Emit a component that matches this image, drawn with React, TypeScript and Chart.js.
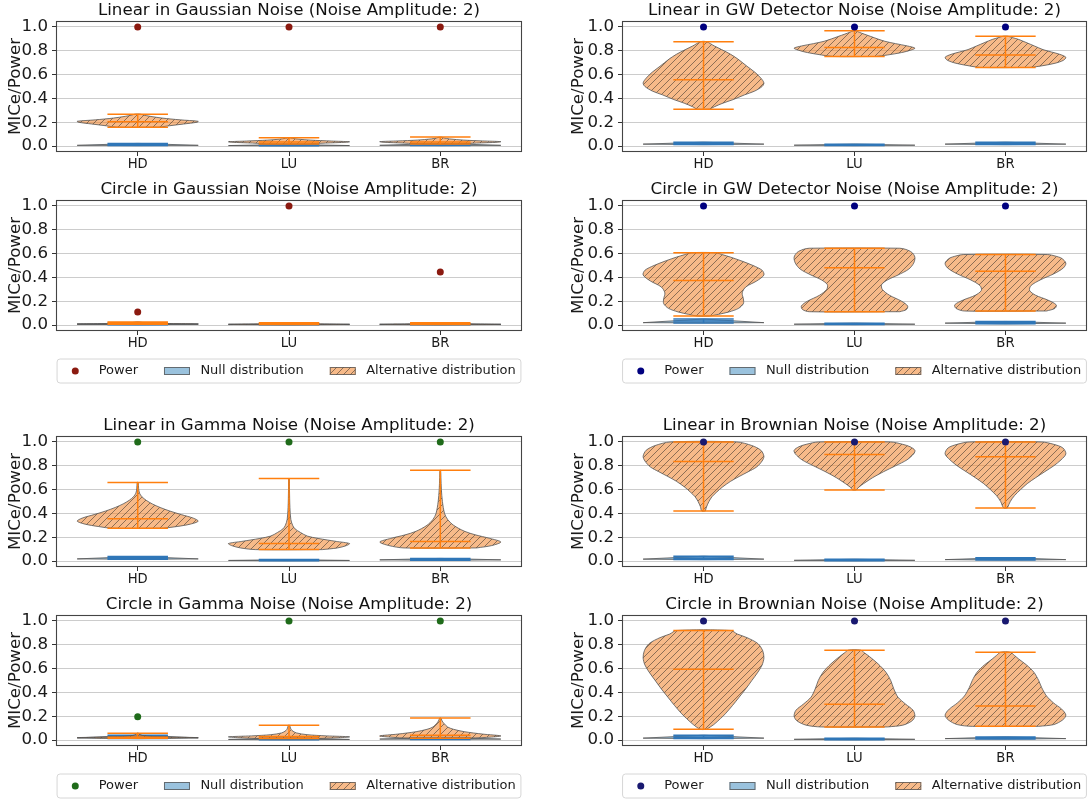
import React, { useEffect, useRef } from 'react';
import { Chart, registerables } from 'chart.js';

Chart.register(...registerables);

type Prof = [number, number][];

// ---------------- data ----------------
const METHODS = ['HD', 'LU', 'BR'];
const Y_TICKS = [0, 0.2, 0.4, 0.6, 0.8, 1.0];
const LEGEND_LABELS = ['Power', 'Null distribution', 'Alternative distribution'];

// Linear in Gaussian Noise
const linGaussPower = [1.0, 1.0, 1.0];
const linGaussNull = [[0.004, 0.012, 0.022], [0.002, 0.006, 0.014], [0.004, 0.012, 0.022]]; // min, mean, max
const linGaussNullMode = [0.006, 0.004, 0.006];
const linGaussAlt = [[0.158, 0.205, 0.268], [0.018, 0.034, 0.07], [0.018, 0.035, 0.075]];
const linGaussAltHD: Prof = [[0.158, 0.35], [0.17, 0.52], [0.185, 0.76], [0.2, 0.98], [0.208, 1.0], [0.22, 0.7], [0.235, 0.4], [0.25, 0.2], [0.26, 0.1], [0.268, 0.04]];
const linGaussAltLU: Prof = [[0.018, 0.3], [0.025, 0.6], [0.032, 0.95], [0.036, 1.0], [0.042, 0.7], [0.05, 0.35], [0.058, 0.15], [0.065, 0.06], [0.07, 0.02]];
const linGaussAltBR: Prof = [[0.018, 0.3], [0.025, 0.6], [0.032, 0.95], [0.037, 1.0], [0.043, 0.7], [0.05, 0.38], [0.06, 0.15], [0.068, 0.06], [0.075, 0.02]];

// Circle in Gaussian Noise
const cirGaussPower = [0.11, 1.0, 0.445];
const cirGaussNull = [[0.003, 0.008, 0.015], [0.002, 0.005, 0.01], [0.002, 0.005, 0.01]];
const cirGaussNullMode = [0.006, 0.004, 0.004];
const cirGaussAlt = [[0.006, 0.016, 0.026], [0.004, 0.011, 0.02], [0.004, 0.011, 0.02]];
const cirGaussAltHD: Prof = [[0.006, 0.1], [0.01, 1.0], [0.014, 0.4], [0.02, 0.1], [0.026, 0.02]];
const cirGaussAltLU: Prof = [[0.004, 0.1], [0.007, 1.0], [0.011, 0.4], [0.016, 0.08], [0.02, 0.02]];
const cirGaussAltBR: Prof = [[0.004, 0.1], [0.007, 1.0], [0.011, 0.4], [0.016, 0.08], [0.02, 0.02]];

// Linear in GW Detector Noise
const linGWPower = [1.0, 1.0, 1.0];
const linGWNull = [[0.012, 0.02, 0.032], [0.004, 0.009, 0.016], [0.012, 0.02, 0.032]];
const linGWNullMode = [0.016, 0.007, 0.016];
const linGWAlt = [[0.309, 0.556, 0.876], [0.752, 0.828, 0.968], [0.66, 0.765, 0.922]];
const linGWAltHD: Prof = [[0.309, 0.1], [0.33, 0.18], [0.36, 0.32], [0.39, 0.49], [0.43, 0.68], [0.46, 0.84], [0.5, 0.97], [0.53, 1.0], [0.57, 0.95], [0.62, 0.85], [0.67, 0.72], [0.73, 0.57], [0.77, 0.45], [0.81, 0.3], [0.84, 0.18], [0.876, 0.05]];
const linGWAltLU: Prof = [[0.752, 0.35], [0.765, 0.55], [0.785, 0.78], [0.805, 0.93], [0.822, 1.0], [0.84, 0.88], [0.86, 0.68], [0.88, 0.5], [0.9, 0.38], [0.92, 0.27], [0.94, 0.16], [0.955, 0.08], [0.968, 0.02]];
const linGWAltBR: Prof = [[0.66, 0.42], [0.675, 0.62], [0.695, 0.82], [0.72, 0.96], [0.745, 1.0], [0.77, 0.9], [0.79, 0.76], [0.81, 0.62], [0.84, 0.48], [0.87, 0.34], [0.895, 0.22], [0.91, 0.12], [0.922, 0.04]];

// Circle in GW Detector Noise
const cirGWPower = [1.0, 1.0, 1.0];
const cirGWNull = [[0.018, 0.033, 0.05], [0.004, 0.009, 0.016], [0.01, 0.02, 0.03]];
const cirGWNullMode = [0.02, 0.007, 0.016];
const cirGWAlt = [[0.075, 0.375, 0.607], [0.112, 0.482, 0.645], [0.118, 0.452, 0.592]];
const cirGWAltHD: Prof = [[0.075, 0.1], [0.09, 0.25], [0.11, 0.42], [0.14, 0.58], [0.18, 0.66], [0.22, 0.66], [0.27, 0.64], [0.32, 0.7], [0.37, 0.88], [0.42, 1.0], [0.46, 0.97], [0.5, 0.82], [0.54, 0.62], [0.57, 0.45], [0.59, 0.32], [0.607, 0.2]];
const cirGWAltLU: Prof = [[0.112, 0.75], [0.13, 0.86], [0.16, 0.88], [0.2, 0.78], [0.25, 0.58], [0.3, 0.46], [0.34, 0.45], [0.38, 0.55], [0.42, 0.72], [0.47, 0.9], [0.52, 0.98], [0.57, 1.0], [0.61, 0.95], [0.635, 0.85], [0.645, 0.75]];
const cirGWAltBR: Prof = [[0.118, 0.68], [0.14, 0.82], [0.17, 0.84], [0.21, 0.7], [0.25, 0.5], [0.29, 0.4], [0.33, 0.42], [0.38, 0.58], [0.43, 0.8], [0.48, 0.96], [0.52, 1.0], [0.56, 0.93], [0.58, 0.82], [0.592, 0.7]];

// Linear in Gamma Noise
const linGamPower = [1.0, 1.0, 1.0];
const linGamNull = [[0.015, 0.025, 0.038], [0.003, 0.007, 0.012], [0.006, 0.013, 0.022]];
const linGamNullMode = [0.018, 0.005, 0.01];
const linGamAlt = [[0.275, 0.355, 0.66], [0.096, 0.147, 0.694], [0.11, 0.165, 0.762]];
const linGamAltHD: Prof = [[0.275, 0.42], [0.29, 0.65], [0.31, 0.87], [0.335, 1.0], [0.36, 0.92], [0.39, 0.72], [0.42, 0.53], [0.45, 0.37], [0.48, 0.24], [0.51, 0.14], [0.54, 0.07], [0.57, 0.03], [0.61, 0.015], [0.66, 0.008]];
const linGamAltLU: Prof = [[0.096, 0.55], [0.11, 0.8], [0.13, 0.95], [0.147, 1.0], [0.165, 0.78], [0.19, 0.48], [0.21, 0.3], [0.24, 0.19], [0.27, 0.1], [0.3, 0.06], [0.35, 0.03], [0.45, 0.015], [0.6, 0.008], [0.694, 0.005]];
const linGamAltBR: Prof = [[0.11, 0.6], [0.13, 0.85], [0.16, 1.0], [0.19, 0.82], [0.22, 0.58], [0.25, 0.4], [0.3, 0.22], [0.35, 0.12], [0.4, 0.07], [0.5, 0.035], [0.6, 0.018], [0.7, 0.01], [0.762, 0.005]];

// Circle in Gamma Noise
const cirGamPower = [0.195, 1.0, 1.0];
const cirGamNull = [[0.012, 0.025, 0.04], [0.003, 0.008, 0.018], [0.005, 0.012, 0.022]];
const cirGamNullMode = [0.018, 0.005, 0.008];
const cirGamAlt = [[0.016, 0.024, 0.058], [0.012, 0.03, 0.125], [0.016, 0.04, 0.185]];
const cirGamAltHD: Prof = [[0.016, 0.5], [0.02, 1.0], [0.025, 0.6], [0.03, 0.25], [0.038, 0.08], [0.048, 0.03], [0.058, 0.01]];
const cirGamAltLU: Prof = [[0.012, 0.4], [0.02, 0.85], [0.027, 1.0], [0.035, 0.62], [0.045, 0.3], [0.06, 0.12], [0.08, 0.05], [0.1, 0.025], [0.125, 0.01]];
const cirGamAltBR: Prof = [[0.016, 0.5], [0.025, 0.85], [0.035, 1.0], [0.05, 0.7], [0.07, 0.4], [0.09, 0.22], [0.11, 0.12], [0.14, 0.06], [0.16, 0.03], [0.185, 0.01]];

// Linear in Brownian Noise
const linBrPower = [1.0, 1.0, 1.0];
const linBrNull = [[0.012, 0.025, 0.04], [0.003, 0.008, 0.015], [0.008, 0.018, 0.028]];
const linBrNullMode = [0.016, 0.006, 0.012];
const linBrAlt = [[0.42, 0.835, 1.0], [0.597, 0.895, 1.0], [0.445, 0.875, 1.0]];
const linBrAltHD: Prof = [[0.42, 0.03], [0.455, 0.05], [0.5, 0.09], [0.54, 0.14], [0.58, 0.22], [0.62, 0.31], [0.67, 0.45], [0.71, 0.59], [0.75, 0.74], [0.79, 0.88], [0.84, 0.97], [0.88, 1.0], [0.93, 0.95], [0.97, 0.8], [1.0, 0.55]];
const linBrAltLU: Prof = [[0.597, 0.03], [0.62, 0.07], [0.65, 0.15], [0.7, 0.3], [0.75, 0.48], [0.8, 0.68], [0.85, 0.87], [0.9, 0.98], [0.93, 1.0], [0.96, 0.92], [0.98, 0.8], [1.0, 0.6]];
const linBrAltBR: Prof = [[0.445, 0.03], [0.5, 0.08], [0.55, 0.15], [0.6, 0.25], [0.65, 0.36], [0.7, 0.5], [0.75, 0.65], [0.8, 0.8], [0.85, 0.92], [0.9, 1.0], [0.95, 0.95], [0.98, 0.8], [1.0, 0.6]];

// Circle in Brownian Noise
const cirBrPower = [1.0, 1.0, 1.0];
const cirBrNull = [[0.012, 0.025, 0.04], [0.003, 0.008, 0.015], [0.008, 0.016, 0.026]];
const cirBrNullMode = [0.016, 0.006, 0.012];
const cirBrAlt = [[0.09, 0.595, 0.92], [0.11, 0.3, 0.755], [0.115, 0.285, 0.737]];
const cirBrAltHD: Prof = [[0.09, 0.05], [0.13, 0.17], [0.18, 0.28], [0.22, 0.36], [0.29, 0.48], [0.36, 0.59], [0.43, 0.7], [0.5, 0.8], [0.57, 0.9], [0.63, 0.97], [0.69, 1.0], [0.75, 0.98], [0.81, 0.9], [0.86, 0.72], [0.89, 0.56], [0.92, 0.45]];
const cirBrAltLU: Prof = [[0.11, 0.55], [0.125, 0.8], [0.16, 0.95], [0.2, 1.0], [0.25, 0.97], [0.3, 0.85], [0.36, 0.72], [0.43, 0.65], [0.5, 0.6], [0.57, 0.52], [0.64, 0.39], [0.7, 0.25], [0.73, 0.17], [0.755, 0.1]];
const cirBrAltBR: Prof = [[0.115, 0.55], [0.13, 0.8], [0.17, 0.95], [0.21, 1.0], [0.26, 0.93], [0.31, 0.8], [0.37, 0.68], [0.44, 0.6], [0.5, 0.55], [0.57, 0.47], [0.63, 0.35], [0.68, 0.22], [0.71, 0.15], [0.737, 0.08]];

// ---------------- style / layout ----------------
const FONT = '"DejaVu Sans", "Liberation Sans", sans-serif';
const BIG = 16.67;
const SMALL = 13.2;
const GAUSS_COLOR = '#8b1a10';
const GW_COLOR = '#00007f';
const GAMMA_COLOR = '#1f6b1a';
const BROWN_COLOR = '#191970';
const ALT_LINE = '#ff7f0e';
const NULL_LINE = '#2f76b7';
const NULL_FILL = 'rgba(31,119,180,0.45)';
const EDGE = 'rgba(85,85,85,0.8)';
const ALT_FILL = 'rgba(240,130,40,0.55)';
const HATCH_LINE = 'rgba(70,60,50,0.6)';

const COL_X = [0, 546];
const PLOT_LEFT = [56, 622];
const PLOT_RIGHT = [522, 1087];
const YTITLE_PAD = [0, 17];
const ROW_TOP = [21, 200, 436, 615];
const PLOT_H = 131;
const TITLE_H = 21;
const XAXIS_H = 28;
const LEGEND_H = 62;
const CANVAS_W = 546;
const VIOLIN_HALF = 0.4;
const LINE_HALF = 0.2;

type Panel = {
  title: string;
  col: number;
  row: number;
  legend: boolean;
  power: number[];
  powerColor: string;
  nul: number[][];
  nulMode: number[];
  alt: number[][];
  prof: Prof[];
};

const PANELS: Panel[] = [
  { title: 'Linear in Gaussian Noise (Noise Amplitude: 2)', col: 0, row: 0, legend: false, power: linGaussPower, powerColor: GAUSS_COLOR, nul: linGaussNull, nulMode: linGaussNullMode, alt: linGaussAlt, prof: [linGaussAltHD, linGaussAltLU, linGaussAltBR] },
  { title: 'Circle in Gaussian Noise (Noise Amplitude: 2)', col: 0, row: 1, legend: true, power: cirGaussPower, powerColor: GAUSS_COLOR, nul: cirGaussNull, nulMode: cirGaussNullMode, alt: cirGaussAlt, prof: [cirGaussAltHD, cirGaussAltLU, cirGaussAltBR] },
  { title: 'Linear in GW Detector Noise (Noise Amplitude: 2)', col: 1, row: 0, legend: false, power: linGWPower, powerColor: GW_COLOR, nul: linGWNull, nulMode: linGWNullMode, alt: linGWAlt, prof: [linGWAltHD, linGWAltLU, linGWAltBR] },
  { title: 'Circle in GW Detector Noise (Noise Amplitude: 2)', col: 1, row: 1, legend: true, power: cirGWPower, powerColor: GW_COLOR, nul: cirGWNull, nulMode: cirGWNullMode, alt: cirGWAlt, prof: [cirGWAltHD, cirGWAltLU, cirGWAltBR] },
  { title: 'Linear in Gamma Noise (Noise Amplitude: 2)', col: 0, row: 2, legend: false, power: linGamPower, powerColor: GAMMA_COLOR, nul: linGamNull, nulMode: linGamNullMode, alt: linGamAlt, prof: [linGamAltHD, linGamAltLU, linGamAltBR] },
  { title: 'Circle in Gamma Noise (Noise Amplitude: 2)', col: 0, row: 3, legend: true, power: cirGamPower, powerColor: GAMMA_COLOR, nul: cirGamNull, nulMode: cirGamNullMode, alt: cirGamAlt, prof: [cirGamAltHD, cirGamAltLU, cirGamAltBR] },
  { title: 'Linear in Brownian Noise (Noise Amplitude: 2)', col: 1, row: 2, legend: false, power: linBrPower, powerColor: BROWN_COLOR, nul: linBrNull, nulMode: linBrNullMode, alt: linBrAlt, prof: [linBrAltHD, linBrAltLU, linBrAltBR] },
  { title: 'Circle in Brownian Noise (Noise Amplitude: 2)', col: 1, row: 3, legend: true, power: cirBrPower, powerColor: BROWN_COLOR, nul: cirBrNull, nulMode: cirBrNullMode, alt: cirBrAlt, prof: [cirBrAltHD, cirBrAltLU, cirBrAltBR] },
];

// ---------------- helpers ----------------
function makeHatch(): CanvasPattern | string {
  const s = 7;
  const c = document.createElement('canvas');
  c.width = s;
  c.height = s;
  const g = c.getContext('2d');
  if (!g) return ALT_FILL;
  g.fillStyle = ALT_FILL;
  g.fillRect(0, 0, s, s);
  g.strokeStyle = HATCH_LINE;
  g.lineWidth = 1;
  g.beginPath();
  g.moveTo(0, s);
  g.lineTo(s, 0);
  g.moveTo(-1, 1);
  g.lineTo(1, -1);
  g.moveTo(s - 1, s + 1);
  g.lineTo(s + 1, s - 1);
  g.stroke();
  return g.createPattern(c, 'repeat') || ALT_FILL;
}

function bodyPoints(pos: number, prof: Prof) {
  const right = prof.map(([y, w]) => ({ x: pos + w * VIOLIN_HALF, y }));
  const left = prof.slice().reverse().map(([y, w]) => ({ x: pos - w * VIOLIN_HALF, y }));
  return [...right, ...left, right[0]];
}

function statLines(pos: number, s: number[]) {
  const [mn, mean, mx] = s;
  const gap = { x: pos, y: null as any };
  return [
    { x: pos - LINE_HALF, y: mn }, { x: pos + LINE_HALF, y: mn }, gap,
    { x: pos - LINE_HALF, y: mx }, { x: pos + LINE_HALF, y: mx }, gap,
    { x: pos - LINE_HALF, y: mean }, { x: pos + LINE_HALF, y: mean }, gap,
    { x: pos, y: mn }, { x: pos, y: mx }, gap,
  ];
}

const framePlugin = {
  id: 'frame',
  afterDraw(chart: any) {
    const { ctx, chartArea: a } = chart;
    ctx.save();
    ctx.strokeStyle = '#444444';
    ctx.lineWidth = 1.1;
    ctx.strokeRect(Math.round(a.left) + 0.5, Math.round(a.top) + 0.5, Math.round(a.right - a.left) - 1, Math.round(a.bottom - a.top) - 1);
    ctx.restore();
  },
};

function makeLegendPlugin(show: boolean, powerColor: string, hatch: CanvasPattern | string) {
  return {
    id: 'mplLegend',
    afterDraw(chart: any) {
      if (!show) return;
      const { ctx, chartArea: a } = chart;
      const fs = 13;
      const pad = 0.4 * fs;
      const hl = 2 * fs;
      const htp = 0.8 * fs;
      const cs = 2 * fs;
      ctx.save();
      ctx.font = `${fs}px ${FONT}`;
      const widths = LEGEND_LABELS.map((t) => ctx.measureText(t).width);
      const total = 2 * pad + widths.reduce((s, w) => s + hl + htp + w, 0) + cs * (widths.length - 1);
      const cx = (a.left + a.right) / 2;
      const x0 = cx - total / 2;
      const top = a.bottom + 28;
      const h = 24;
      const r = 3;
      ctx.beginPath();
      ctx.moveTo(x0 + r, top);
      ctx.lineTo(x0 + total - r, top);
      ctx.quadraticCurveTo(x0 + total, top, x0 + total, top + r);
      ctx.lineTo(x0 + total, top + h - r);
      ctx.quadraticCurveTo(x0 + total, top + h, x0 + total - r, top + h);
      ctx.lineTo(x0 + r, top + h);
      ctx.quadraticCurveTo(x0, top + h, x0, top + h - r);
      ctx.lineTo(x0, top + r);
      ctx.quadraticCurveTo(x0, top, x0 + r, top);
      ctx.closePath();
      ctx.fillStyle = 'rgba(255,255,255,0.8)';
      ctx.fill();
      ctx.strokeStyle = '#d6d6d6';
      ctx.lineWidth = 1;
      ctx.stroke();
      const cy = top + h / 2;
      let ix = x0 + pad;
      LEGEND_LABELS.forEach((label, i) => {
        if (i === 0) {
          ctx.beginPath();
          ctx.arc(ix + hl / 2, cy, 3.5, 0, Math.PI * 2);
          ctx.fillStyle = powerColor;
          ctx.fill();
        } else {
          const sh = 8;
          ctx.fillStyle = '#ffffff';
          ctx.fillRect(ix, cy - sh / 2, hl, sh);
          ctx.fillStyle = i === 1 ? NULL_FILL : (hatch as any);
          ctx.fillRect(ix, cy - sh / 2, hl, sh);
          ctx.strokeStyle = EDGE;
          ctx.lineWidth = 1;
          ctx.strokeRect(ix + 0.5, cy - sh / 2 + 0.5, hl - 1, sh - 1);
        }
        ctx.fillStyle = '#1a1a1a';
        ctx.textBaseline = 'middle';
        ctx.textAlign = 'left';
        ctx.fillText(label, ix + hl + htp, cy);
        ix += hl + htp + widths[i] + cs;
      });
      ctx.restore();
    },
  };
}

function PanelChart({ p }: { p: Panel }) {
  const ref = useRef<HTMLCanvasElement>(null);
  const left = COL_X[p.col];
  const top = ROW_TOP[p.row] - TITLE_H;
  const height = TITLE_H + PLOT_H + XAXIS_H + (p.legend ? LEGEND_H : 0);

  useEffect(() => {
    const canvas = ref.current;
    if (!canvas) return;
    const hatch = makeHatch();
    const datasets: any[] = [];
    p.nul.forEach((s, i) => {
      const shape: Prof = [[s[0], 0.03], [p.nulMode[i], 1], [s[2], 0.02]];
      datasets.push({
        data: bodyPoints(i + 1, shape), fill: 'shape', backgroundColor: NULL_FILL, borderColor: EDGE,
        borderWidth: 1, pointRadius: 0, tension: 0, order: 4,
      });
    });
    datasets.push({
      data: p.nul.flatMap((s, i) => statLines(i + 1, s)), borderColor: NULL_LINE, borderWidth: 1.5,
      pointRadius: 0, fill: false, spanGaps: false, tension: 0, order: 3,
    });
    p.prof.forEach((pr, i) => {
      datasets.push({
        data: bodyPoints(i + 1, pr), fill: 'shape', backgroundColor: hatch, borderColor: EDGE,
        borderWidth: 1, pointRadius: 0, tension: 0.3, order: 2,
      });
    });
    datasets.push({
      data: p.alt.flatMap((s, i) => statLines(i + 1, s)), borderColor: ALT_LINE, borderWidth: 1.5,
      pointRadius: 0, fill: false, spanGaps: false, tension: 0, order: 1,
    });
    datasets.push({
      data: p.power.map((v, i) => ({ x: i + 1, y: v })), showLine: false, pointRadius: 3.5,
      pointBackgroundColor: p.powerColor, pointBorderColor: p.powerColor, pointBorderWidth: 0, order: 0,
    });

    const yWidth = PLOT_LEFT[p.col] - COL_X[p.col] - YTITLE_PAD[p.col];
    const padRight = CANVAS_W - (PLOT_RIGHT[p.col] - COL_X[p.col]);

    const chart = new Chart(canvas, {
      type: 'line',
      data: { datasets },
      options: {
        animation: false,
        responsive: false,
        events: [],
        layout: {
          autoPadding: false,
          padding: { left: YTITLE_PAD[p.col], right: padRight, top: 0, bottom: p.legend ? LEGEND_H : 0 },
        },
        plugins: {
          legend: { display: false },
          tooltip: { enabled: false },
          title: {
            display: true,
            text: p.title,
            fullSize: false,
            color: '#111111',
            font: { family: FONT, size: BIG, weight: 'normal', lineHeight: 1.2 },
            padding: { top: 0.5, bottom: 0.5 },
          },
        },
        scales: {
          x: {
            type: 'linear',
            min: 0.46,
            max: 3.54,
            afterBuildTicks: (axis: any) => {
              axis.ticks = [1, 2, 3].map((v) => ({ value: v }));
            },
            afterFit: (axis: any) => {
              axis.height = XAXIS_H;
            },
            ticks: {
              autoSkip: false,
              maxRotation: 0,
              padding: 1,
              color: '#1a1a1a',
              font: { family: FONT, size: SMALL },
              callback: (v: any) => METHODS[Math.round(Number(v)) - 1] ?? '',
            },
            grid: { drawOnChartArea: false, drawTicks: true, tickLength: 4, tickColor: '#333333' },
            border: { display: false },
          },
          y: {
            type: 'linear',
            min: -0.05,
            max: 1.05,
            afterBuildTicks: (axis: any) => {
              axis.ticks = Y_TICKS.map((v) => ({ value: v }));
            },
            afterFit: (axis: any) => {
              axis.width = yWidth;
            },
            ticks: {
              padding: 4,
              color: '#1a1a1a',
              font: { family: FONT, size: BIG },
              callback: (v: any) => Number(v).toFixed(1),
            },
            grid: { color: '#cccccc', lineWidth: 1, drawTicks: true, tickLength: 4, tickColor: '#333333' },
            border: { display: false },
            title: {
              display: true,
              text: 'MICe/Power',
              color: '#1a1a1a',
              font: { family: FONT, size: BIG, lineHeight: 1.2 },
              padding: { top: 6, bottom: 0 },
            },
          },
        },
      } as any,
      plugins: [framePlugin, makeLegendPlugin(p.legend, p.powerColor, hatch)],
    });
    return () => chart.destroy();
  }, []);

  return (
    <canvas
      ref={ref}
      width={CANVAS_W}
      height={height}
      style={{ position: 'absolute', left, top, width: CANVAS_W, height }}
    />
  );
}

export default function App() {
  return (
    <div style={{ position: 'absolute', left: 0, top: 0, width: 1092, height: 803, background: '#ffffff', overflow: 'hidden' }}>
      {PANELS.map((p, i) => (
        <PanelChart key={i} p={p} />
      ))}
    </div>
  );
}
